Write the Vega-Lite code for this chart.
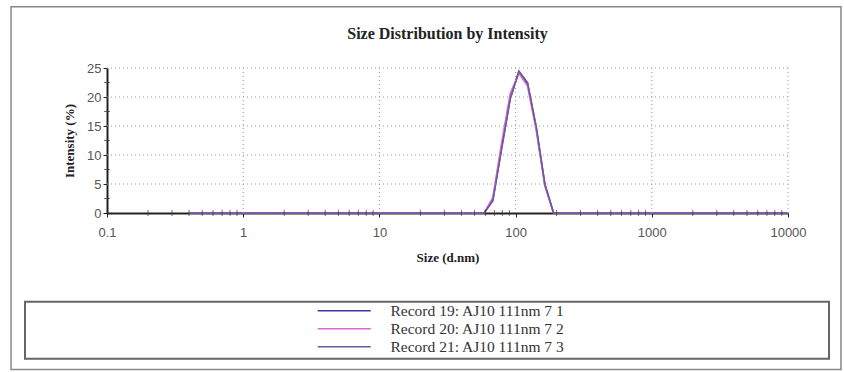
{
  "$schema": "https://vega.github.io/schema/vega-lite/v6.json",
  "width": 681,
  "height": 145,
  "autosize": {"type": "none"},
  "padding": {"left": 107, "top": 68, "right": 56, "bottom": 159},
  "background": "white",
  "title": {"text": "Size Distribution by Intensity", "font": "Liberation Serif", "fontSize": 16, "fontWeight": "bold", "color": "#222", "anchor": "middle", "offset": -36.5},
  "config": {
    "view": {"stroke": null},
    "axis": {
      "labelOverlap": false, "labelFlush": false,
      "labelFont": "Liberation Sans", "labelFontSize": 13, "labelColor": "#555",
      "tickSize": 4, "tickColor": "#222", "tickWidth": 1,
      "domainColor": "#222", "domainWidth": 2, "grid": false,
      "titleFont": "Liberation Serif", "titleFontSize": 13, "titleFontWeight": "bold", "titleColor": "#222"
    },
    "axisX": {"labelPadding": 9, "titlePadding": 12},
    "axisY": {"labelPadding": 2, "titlePadding": 10}
  },
  "layer": [
    {
      "data": {"values": [
        {"s": 0.4, "a": 0, "b": 0, "c": 0}, {"s": 0.4632, "a": 0, "b": 0, "c": 0}, {"s": 0.5365, "a": 0, "b": 0, "c": 0}, {"s": 0.6213, "a": 0, "b": 0, "c": 0},
        {"s": 0.7195, "a": 0, "b": 0, "c": 0}, {"s": 0.8332, "a": 0, "b": 0, "c": 0}, {"s": 0.9649, "a": 0, "b": 0, "c": 0}, {"s": 1.117, "a": 0, "b": 0, "c": 0},
        {"s": 1.294, "a": 0, "b": 0, "c": 0}, {"s": 1.499, "a": 0, "b": 0, "c": 0}, {"s": 1.736, "a": 0, "b": 0, "c": 0}, {"s": 2.01, "a": 0, "b": 0, "c": 0},
        {"s": 2.328, "a": 0, "b": 0, "c": 0}, {"s": 2.696, "a": 0, "b": 0, "c": 0}, {"s": 3.122, "a": 0, "b": 0, "c": 0}, {"s": 3.615, "a": 0, "b": 0, "c": 0},
        {"s": 4.187, "a": 0, "b": 0, "c": 0}, {"s": 4.849, "a": 0, "b": 0, "c": 0}, {"s": 5.615, "a": 0, "b": 0, "c": 0}, {"s": 6.503, "a": 0, "b": 0, "c": 0},
        {"s": 7.531, "a": 0, "b": 0, "c": 0}, {"s": 8.721, "a": 0, "b": 0, "c": 0}, {"s": 10.1, "a": 0, "b": 0, "c": 0}, {"s": 11.7, "a": 0, "b": 0, "c": 0},
        {"s": 13.54, "a": 0, "b": 0, "c": 0}, {"s": 15.69, "a": 0, "b": 0, "c": 0}, {"s": 18.17, "a": 0, "b": 0, "c": 0}, {"s": 21.04, "a": 0, "b": 0, "c": 0},
        {"s": 24.36, "a": 0, "b": 0, "c": 0}, {"s": 28.21, "a": 0, "b": 0, "c": 0}, {"s": 32.67, "a": 0, "b": 0, "c": 0}, {"s": 37.84, "a": 0, "b": 0, "c": 0},
        {"s": 43.82, "a": 0, "b": 0, "c": 0}, {"s": 50.75, "a": 0, "b": 0, "c": 0}, {"s": 58.77, "a": 0, "b": 0, "c": 0},
        {"s": 68.06, "a": 2.3, "b": 2.7, "c": 2.1},
        {"s": 78.82, "a": 11.2, "b": 12.0, "c": 10.9},
        {"s": 91.28, "a": 19.8, "b": 20.6, "c": 19.6},
        {"s": 105.7, "a": 24.3, "b": 24.1, "c": 24.5},
        {"s": 122.4, "a": 22.3, "b": 21.9, "c": 22.5},
        {"s": 141.8, "a": 14.6, "b": 14.2, "c": 14.9},
        {"s": 164.2, "a": 4.8, "b": 4.6, "c": 5.0},
        {"s": 190.1, "a": 0, "b": 0, "c": 0}, {"s": 220.2, "a": 0, "b": 0, "c": 0}, {"s": 255, "a": 0, "b": 0, "c": 0}, {"s": 295.3, "a": 0, "b": 0, "c": 0},
        {"s": 342, "a": 0, "b": 0, "c": 0}, {"s": 396.1, "a": 0, "b": 0, "c": 0}, {"s": 458.7, "a": 0, "b": 0, "c": 0}, {"s": 531.2, "a": 0, "b": 0, "c": 0},
        {"s": 615.1, "a": 0, "b": 0, "c": 0}, {"s": 712.4, "a": 0, "b": 0, "c": 0}, {"s": 825, "a": 0, "b": 0, "c": 0}, {"s": 955.4, "a": 0, "b": 0, "c": 0},
        {"s": 1106, "a": 0, "b": 0, "c": 0}, {"s": 1281, "a": 0, "b": 0, "c": 0}, {"s": 1484, "a": 0, "b": 0, "c": 0}, {"s": 1718, "a": 0, "b": 0, "c": 0},
        {"s": 1990, "a": 0, "b": 0, "c": 0}, {"s": 2305, "a": 0, "b": 0, "c": 0}, {"s": 2669, "a": 0, "b": 0, "c": 0}, {"s": 3091, "a": 0, "b": 0, "c": 0},
        {"s": 3580, "a": 0, "b": 0, "c": 0}, {"s": 4145, "a": 0, "b": 0, "c": 0}, {"s": 4801, "a": 0, "b": 0, "c": 0}, {"s": 5560, "a": 0, "b": 0, "c": 0},
        {"s": 6439, "a": 0, "b": 0, "c": 0}, {"s": 7456, "a": 0, "b": 0, "c": 0}, {"s": 8635, "a": 0, "b": 0, "c": 0}, {"s": 10000, "a": 0, "b": 0, "c": 0}
      ]},
      "transform": [{"fold": ["a", "b", "c"], "as": ["rec", "v"]}],
      "mark": {"type": "line", "strokeWidth": 1.6},
      "encoding": {
        "x": {
          "field": "s", "type": "quantitative", "title": "Size (d.nm)",
          "scale": {"type": "log", "domain": [0.1, 10000], "nice": false},
          "axis": {"values": [0.1, 1, 10, 100, 1000, 10000], "labelExpr": "'' + datum.value"}
        },
        "y": {
          "field": "v", "type": "quantitative", "title": "Intensity (%)",
          "scale": {"domain": [0, 25], "nice": false},
          "axis": {"values": [0, 5, 10, 15, 20, 25]}
        },
        "color": {
          "field": "rec", "type": "nominal",
          "scale": {"domain": ["a", "b", "c"], "range": ["#3a3aa8", "#d66ad6", "#6e5a96"]},
          "legend": {
            "orient": "none", "legendX": 229.5, "legendY": 235, "title": null,
            "symbolType": "M-5.3,0H5.3", "symbolSize": 100, "symbolStrokeWidth": 1.5,
            "labelFont": "Liberation Serif", "labelFontSize": 15.5, "labelColor": "#333", "labelOffset": 38.5, "labelLimit": 400,
            "rowPadding": 1,
            "labelExpr": "datum.label == 'a' ? 'Record 19: AJ10 111nm 7 1' : datum.label == 'b' ? 'Record 20: AJ10 111nm 7 2' : 'Record 21: AJ10 111nm 7 3'"
          }
        }
      }
    },
    {
      "data": {"values": [{"g": 5}, {"g": 10}, {"g": 15}, {"g": 20}, {"g": 25}]},
      "mark": {"type": "rule", "color": "#999", "strokeWidth": 1, "strokeDash": [1, 3]},
      "encoding": {
        "y": {"field": "g", "type": "quantitative", "title": "Intensity (%)", "axis": {"values": [0, 5, 10, 15, 20, 25]}},
        "x": {"datum": 0.1, "type": "quantitative", "title": "Size (d.nm)", "axis": {"values": [0.1, 1, 10, 100, 1000, 10000], "labelExpr": "'' + datum.value"}},
        "x2": {"datum": 10000}
      }
    },
    {
      "data": {"values": [{"g": 1}, {"g": 10}, {"g": 100}, {"g": 1000}, {"g": 10000}]},
      "mark": {"type": "rule", "color": "#999", "strokeWidth": 1, "strokeDash": [1, 3]},
      "encoding": {
        "x": {"field": "g", "type": "quantitative", "title": "Size (d.nm)", "axis": {"values": [0.1, 1, 10, 100, 1000, 10000], "labelExpr": "'' + datum.value"}},
        "y": {"datum": 0, "type": "quantitative", "title": "Intensity (%)", "axis": {"values": [0, 5, 10, 15, 20, 25]}},
        "y2": {"datum": 25}
      }
    },
    {
      "data": {"values": [
        {"t": 0.2}, {"t": 0.3}, {"t": 0.4}, {"t": 0.5}, {"t": 0.6}, {"t": 0.7}, {"t": 0.8}, {"t": 0.9},
        {"t": 2}, {"t": 3}, {"t": 4}, {"t": 5}, {"t": 6}, {"t": 7}, {"t": 8}, {"t": 9},
        {"t": 20}, {"t": 30}, {"t": 40}, {"t": 50}, {"t": 60}, {"t": 70}, {"t": 80}, {"t": 90},
        {"t": 200}, {"t": 300}, {"t": 400}, {"t": 500}, {"t": 600}, {"t": 700}, {"t": 800}, {"t": 900},
        {"t": 2000}, {"t": 3000}, {"t": 4000}, {"t": 5000}, {"t": 6000}, {"t": 7000}, {"t": 8000}, {"t": 9000}
      ]},
      "mark": {"type": "tick", "orient": "vertical", "size": 6, "thickness": 1, "color": "#333"},
      "encoding": {
        "x": {"field": "t", "type": "quantitative", "title": "Size (d.nm)", "axis": {"values": [0.1, 1, 10, 100, 1000, 10000], "labelExpr": "'' + datum.value"}},
        "y": {"datum": 0, "type": "quantitative", "title": "Intensity (%)", "axis": {"values": [0, 5, 10, 15, 20, 25]}}
      }
    },
    {
      "data": {"values": [{"t": 2.5}, {"t": 7.5}, {"t": 12.5}, {"t": 17.5}, {"t": 22.5}]},
      "mark": {"type": "tick", "orient": "horizontal", "size": 6, "thickness": 1, "color": "#333"},
      "encoding": {
        "y": {"field": "t", "type": "quantitative", "title": "Intensity (%)", "axis": {"values": [0, 5, 10, 15, 20, 25]}},
        "x": {"datum": 0.1, "type": "quantitative", "title": "Size (d.nm)", "axis": {"values": [0.1, 1, 10, 100, 1000, 10000], "labelExpr": "'' + datum.value"}}
      }
    },
    {
      "data": {"values": [{}]},
      "mark": {"type": "rect", "fillOpacity": 0, "stroke": "#666", "strokeWidth": 2},
      "encoding": {
        "x": {"datum": 0.025, "type": "quantitative", "title": "Size (d.nm)", "axis": {"values": [0.1, 1, 10, 100, 1000, 10000], "labelExpr": "'' + datum.value"}},
        "x2": {"datum": 20000},
        "y": {"datum": -15.29, "type": "quantitative", "title": "Intensity (%)", "axis": {"values": [0, 5, 10, 15, 20, 25]}},
        "y2": {"datum": -25.12}
      }
    },
    {
      "data": {"values": [{}]},
      "mark": {"type": "rect", "fillOpacity": 0, "stroke": "#888", "strokeWidth": 1.5},
      "encoding": {
        "x": {"datum": 0.01973, "type": "quantitative", "title": "Size (d.nm)", "axis": {"values": [0.1, 1, 10, 100, 1000, 10000], "labelExpr": "'' + datum.value"}},
        "x2": {"datum": 24490},
        "y": {"datum": 35.57, "type": "quantitative", "title": "Intensity (%)", "axis": {"values": [0, 5, 10, 15, 20, 25]}},
        "y2": {"datum": -27.0}
      }
    }
  ]
}
